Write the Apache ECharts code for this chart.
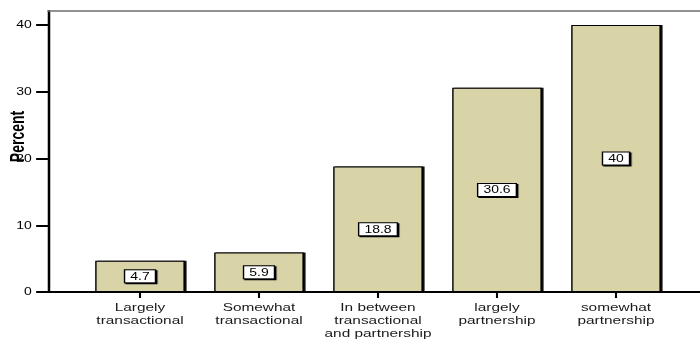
<!DOCTYPE html>
<html>
<head>
<meta charset="utf-8">
<script src="https://cdn.jsdelivr.net/npm/echarts@6/dist/echarts.min.js"></script>
<style>
  html, body { margin: 0; padding: 0; background: #fff; overflow: hidden; }
  /* the chart is laid out narrow and widened, giving the broad lettering of the figure */
  #chart { width: 500px; height: 339px; transform: scaleX(1.4); transform-origin: 0 0; }
</style>
</head>
<body>
<div id="chart"></div>
<script>
// Relationship type with the supplier, percent of respondents
const categories = [
  'Largely\ntransactional',
  'Somewhat\ntransactional',
  'In between\ntransactional\nand partnership',
  'largely\npartnership',
  'somewhat\npartnership'
];
const percents = [4.7, 5.9, 18.8, 30.6, 40];
const yTicks = [0, 10, 20, 30, 40];
const yMax = 42.1;
const yTitle = 'Percent';

const FONT = '"Liberation Sans", Arial, sans-serif';
const BAR_FILL = '#d8d4a8';

const chart = echarts.init(document.getElementById('chart'), null, { renderer: 'svg' });

chart.setOption({
  animation: false,
  backgroundColor: '#ffffff',
  grid: [
    // frame: y axis, baseline and top rule
    { left: 34.3, right: 0, top: 11, bottom: 47, outerBoundsMode: 'none' },
    // bars
    { left: 57.5, right: 17.5, top: 11, bottom: 47, outerBoundsMode: 'none' }
  ],
  xAxis: [
    {
      gridIndex: 0, type: 'value', position: 'bottom', min: 0, max: 1,
      axisLine: { show: true, lineStyle: { color: '#000', width: 2 } },
      axisTick: { show: false }, axisLabel: { show: false }, splitLine: { show: false }
    },
    {
      gridIndex: 0, type: 'value', position: 'top', min: 0, max: 1,
      axisLine: { show: true, lineStyle: { color: '#6e6e6e', width: 1.5 } },
      axisTick: { show: false }, axisLabel: { show: false }, splitLine: { show: false }
    },
    {
      gridIndex: 1, type: 'category', data: categories, position: 'bottom',
      axisLine: { show: false },
      axisTick: { show: true, alignWithLabel: true, length: 6, lineStyle: { color: '#000', width: 1.5 } },
      axisLabel: {
        show: true, interval: 0, margin: 8.5,
        fontFamily: FONT, fontSize: 11, lineHeight: 13, color: '#1a1a1a'
      },
      splitLine: { show: false }
    }
  ],
  yAxis: [
    {
      gridIndex: 0, type: 'value', min: 0, max: yMax,
      axisLine: { show: true, lineStyle: { color: '#000', width: 1.8 } },
      axisTick: { show: true, customValues: yTicks, length: 8.5, lineStyle: { color: '#000', width: 2 } },
      axisLabel: { show: true, customValues: yTicks, margin: 11.6, fontFamily: FONT, fontSize: 10, color: '#000' },
      splitLine: { show: false }
    },
    {
      gridIndex: 1, type: 'value', min: 0, max: yMax, show: false
    }
  ],
  series: [
    {
      type: 'bar',
      xAxisIndex: 2,
      yAxisIndex: 1,
      data: percents,
      barWidth: 64,
      itemStyle: {
        color: BAR_FILL,
        borderColor: '#000',
        borderWidth: 1,
        shadowColor: '#000',
        shadowOffsetX: 1.2,
        shadowOffsetY: 0,
        shadowBlur: 0
      },
      label: {
        show: true,
        position: 'inside',
        formatter: (p) => String(p.value),
        fontFamily: FONT,
        fontSize: 10,
        color: '#000',
        backgroundColor: '#fff',
        borderColor: '#000',
        borderWidth: 1,
        padding: [1, 3.6, 1, 3.6],
        shadowColor: '#000',
        shadowOffsetX: 1,
        shadowOffsetY: 1,
        shadowBlur: 0
      }
    }
  ],
  graphic: [
    {
      type: 'text',
      x: 12.9,
      y: 136.5,
      rotation: Math.PI / 2,
      style: {
        text: yTitle,
        fontFamily: FONT,
        fontWeight: 'bold',
        fontSize: 14,
        fill: '#000',
        align: 'center',
        verticalAlign: 'middle'
      }
    }
  ]
});
</script>
</body>
</html>
